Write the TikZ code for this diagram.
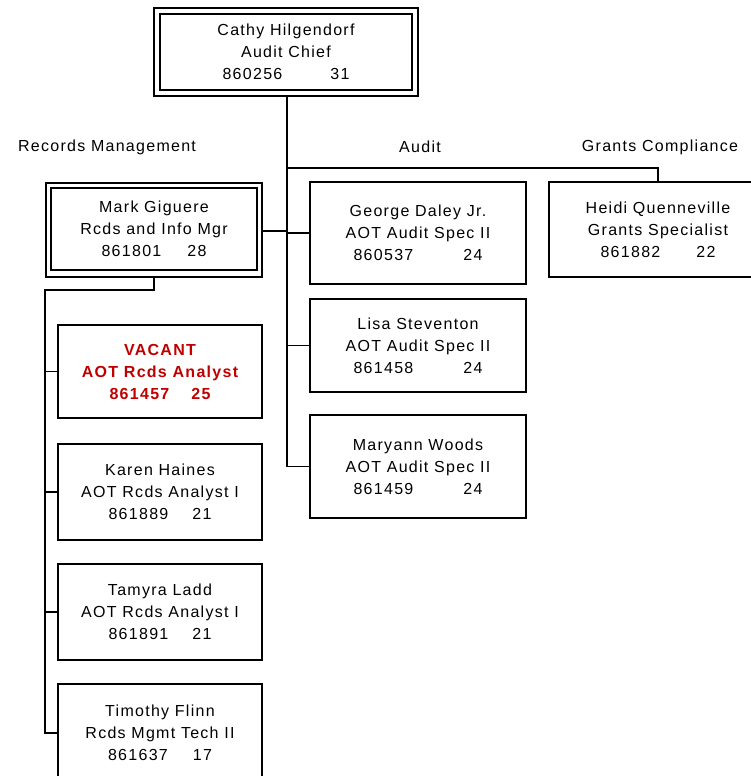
\documentclass[tikz,border=0pt]{standalone}
\usepackage{fontspec}
\setmainfont{Liberation Sans}[LetterSpace=8]
\definecolor{vacred}{HTML}{C00000}
\begin{document}
\begin{tikzpicture}[x=1pt,y=-1pt,
  every node/.style={inner sep=0pt,outer sep=0pt},
  conn/.style={line width=1.6pt,line cap=rect},
  box/.style={draw,line width=1.6pt,align=center,font=\fontsize{16}{22}\selectfont},
  frame/.style={draw,line width=1.8pt}]
\clip (0,0) rectangle (751,776);
\fill[white] (0,0) rectangle (751,776);
% double-frame boxes
\node[frame,minimum width=264pt,minimum height=88pt] (cathyout) at (286,52) {};
\node[box,minimum width=252pt,minimum height=76pt] (cathy) at (286,52)
  {Cathy Hilgendorf\\Audit Chief\\860256\hspace{48pt}31};
\node[frame,minimum width=216pt,minimum height=94pt] (markout) at (154,230) {};
\node[box,minimum width=206pt,minimum height=82pt] (mark) at (154,229)
  {Mark Giguere\\Rcds and Info Mgr\\861801\hspace{26pt}28};
% single boxes
\node[box,minimum width=216pt,minimum height=102pt] (george) at (418,233)
  {George Daley Jr.\\AOT Audit Spec II\\860537\hspace{50pt}24};
\node[box,minimum width=216pt,minimum height=93pt] (lisa) at (418,345.5)
  {Lisa Steventon\\AOT Audit Spec II\\861458\hspace{50pt}24};
\node[box,minimum width=216pt,minimum height=103pt] (maryann) at (418,466.5)
  {Maryann Woods\\AOT Audit Spec II\\861459\hspace{50pt}24};
\node[box,minimum width=218pt,minimum height=95pt] (heidi) at (658,229.5)
  {Heidi Quenneville\\Grants Specialist\\861882\hspace{36pt}22};
\node[box,minimum width=204pt,minimum height=93pt,text=vacred,font=\fontsize{16}{22}\selectfont\bfseries] (vacant) at (160,371.5)
  {VACANT\\AOT Rcds Analyst\\861457\hspace{22pt}25};
\node[box,minimum width=204pt,minimum height=96pt] (karen) at (160,492)
  {Karen Haines\\AOT Rcds Analyst I\\861889\hspace{24pt}21};
\node[box,minimum width=204pt,minimum height=96pt] (tamyra) at (160,612)
  {Tamyra Ladd\\AOT Rcds Analyst I\\861891\hspace{24pt}21};
\node[box,minimum width=204pt,minimum height=98pt] (timothy) at (160,733)
  {Timothy Flinn\\Rcds Mgmt Tech II\\861637\hspace{25pt}17};
% labels
\node[font=\fontsize{16}{22}\selectfont] (lrec) at (107,147) {Records Management};
\node[font=\fontsize{16}{22}\selectfont] (laud) at (420,147) {Audit};
\node[font=\fontsize{16}{22}\selectfont] (lgra) at (660,147) {Grants Compliance};
% connectors
\coordinate (spine) at (287,168);
\coordinate (lspine) at (45,290);
\draw[conn] (cathyout.south -| spine) -- (spine |- maryann.west) -- (maryann.west);
\draw[conn] (spine) -| (heidi.north);
\draw[conn] (markout.east |- 0,231) -- (spine |- 0,231);
\draw[conn] (george.west) -- (george.west -| spine);
\draw[conn] (lisa.west) -- (lisa.west -| spine);
\draw[conn] (markout.south) |- (lspine) -- (lspine |- timothy.west) -- (timothy.west);
\draw[conn] (vacant.west) -- (vacant.west -| lspine);
\draw[conn] (karen.west) -- (karen.west -| lspine);
\draw[conn] (tamyra.west) -- (tamyra.west -| lspine);
\end{tikzpicture}
\end{document}
